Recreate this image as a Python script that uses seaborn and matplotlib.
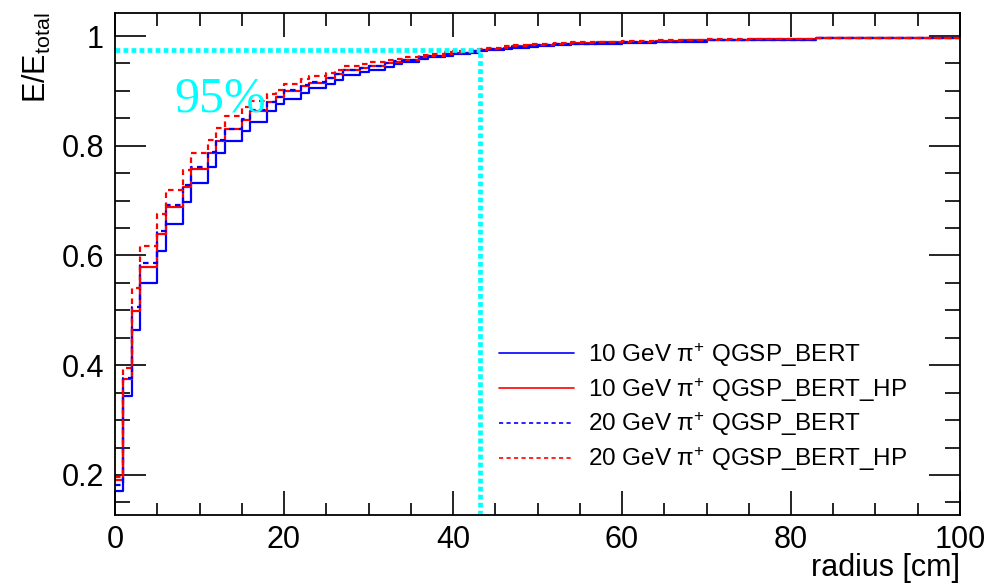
import numpy as np
import pandas as pd
import matplotlib
matplotlib.use("Agg")
import matplotlib.pyplot as plt
from matplotlib.lines import Line2D
from matplotlib.ticker import MultipleLocator
import seaborn as sns

# ---------------- data ----------------
bin_edges = [0, 1, 2, 3, 5, 6, 8, 9, 11, 12, 13, 15, 16, 18, 19, 20, 22, 23, 25, 26, 27,
             29, 30, 32, 33, 34, 36, 37, 39, 40, 42, 43, 44, 46, 47, 49, 50, 52, 54, 57,
             60, 64, 67, 70, 75, 83, 100]

bert_10 = [0.171, 0.344, 0.465, 0.549, 0.609, 0.657, 0.698, 0.733, 0.761, 0.786, 0.809,
           0.827, 0.844, 0.864, 0.876, 0.885, 0.897, 0.905, 0.913, 0.919, 0.929, 0.935,
           0.939, 0.944, 0.949, 0.953, 0.958, 0.961, 0.964, 0.967, 0.970, 0.972, 0.974,
           0.976, 0.978, 0.980, 0.981, 0.983, 0.985, 0.986, 0.988, 0.989, 0.990, 0.992,
           0.993, 0.996]
bert_hp_10 = [0.191, 0.374, 0.498, 0.579, 0.640, 0.689, 0.725, 0.758, 0.786, 0.809, 0.830,
              0.847, 0.863, 0.879, 0.888, 0.900, 0.909, 0.915, 0.924, 0.930, 0.938, 0.941,
              0.945, 0.950, 0.953, 0.957, 0.961, 0.964, 0.967, 0.970, 0.972, 0.975, 0.977,
              0.979, 0.981, 0.983, 0.984, 0.986, 0.987, 0.989, 0.990, 0.991, 0.992, 0.993,
              0.994, 0.996]
bert_20 = [0.182, 0.376, 0.507, 0.587, 0.645, 0.692, 0.728, 0.761, 0.788, 0.811, 0.830,
           0.848, 0.865, 0.880, 0.889, 0.901, 0.910, 0.916, 0.924, 0.930, 0.938, 0.942,
           0.946, 0.950, 0.954, 0.957, 0.961, 0.964, 0.967, 0.970, 0.972, 0.974, 0.976,
           0.978, 0.980, 0.982, 0.983, 0.985, 0.986, 0.988, 0.989, 0.990, 0.991, 0.992,
           0.993, 0.996]
bert_hp_20 = [0.197, 0.395, 0.540, 0.618, 0.676, 0.719, 0.756, 0.786, 0.810, 0.833, 0.854,
              0.870, 0.882, 0.894, 0.901, 0.913, 0.921, 0.927, 0.933, 0.939, 0.945, 0.949,
              0.952, 0.956, 0.959, 0.962, 0.965, 0.968, 0.971, 0.973, 0.975, 0.977, 0.979,
              0.981, 0.983, 0.985, 0.986, 0.988, 0.989, 0.990, 0.991, 0.992, 0.993, 0.994,
              0.995, 0.997]

series_labels = ["10 GeV \u03c0$^{+}$ QGSP_BERT", "10 GeV \u03c0$^{+}$ QGSP_BERT_HP",
                 "20 GeV \u03c0$^{+}$ QGSP_BERT", "20 GeV \u03c0$^{+}$ QGSP_BERT_HP"]
containment_x = 43.2
containment_y = 0.974
containment_text = "95%"

# ---------------- style ----------------
sns.set_theme(style="white")
plt.rcParams["font.family"] = ["Liberation Sans", "DejaVu Sans"]
plt.rcParams["mathtext.fontset"] = "custom"
plt.rcParams["mathtext.rm"] = "Liberation Sans"
plt.rcParams["mathtext.it"] = "Liberation Sans"
plt.rcParams["mathtext.default"] = "regular"
for k in ["text.color", "axes.labelcolor", "xtick.color", "ytick.color", "axes.edgecolor"]:
    plt.rcParams[k] = "black"

fig = plt.figure(figsize=(9.84, 5.85), dpi=100)
ax = fig.add_axes([115 / 984, 1 - 515 / 585, 845 / 984, 502 / 585])

colors = ["#0000ff", "#ff0000", "#0000ff", "#ff0000"]
styles = ["-", "-", (0, (2.5, 2.0)), (0, (2.5, 2.0))]
all_series = [bert_10, bert_hp_10, bert_20, bert_hp_20]

for vals, lab, col, ls in zip(all_series, series_labels, colors, styles):
    df = pd.DataFrame({"radius": bin_edges, "frac": list(vals) + [vals[-1]]})
    sns.lineplot(data=df, x="radius", y="frac", ax=ax, color=col, linestyle=ls,
                 drawstyle="steps-post", linewidth=1.6, estimator=None, sort=False,
                 legend=False)

# containment lines
ax.plot([0, containment_x], [containment_y, containment_y], color="#00ffff",
        linewidth=3.4, linestyle=(0, (1, 0.7)), solid_capstyle="butt")
ax.plot([containment_x, containment_x], [0.127, containment_y], color="#00ffff",
        linewidth=3.4, linestyle=(0, (1, 0.7)))
ax.text(7.0, 0.862, containment_text, color="#00ffff", fontsize=36,
        family=["Liberation Serif", "DejaVu Serif"], ha="left", va="baseline")

ax.set_xlim(0, 100)
ax.set_ylim(0.127, 1.042)

ax.xaxis.set_major_locator(MultipleLocator(20))
ax.xaxis.set_minor_locator(MultipleLocator(5))
ax.yaxis.set_major_locator(MultipleLocator(0.2))
ax.yaxis.set_minor_locator(MultipleLocator(0.05))
ax.set_yticks([0.2, 0.4, 0.6, 0.8, 1.0])
ax.set_yticklabels(["0.2", "0.4", "0.6", "0.8", "1"])

ax.tick_params(axis="x", which="major", direction="in", length=17, width=1.2,
               top=True, bottom=True, labelsize=22, pad=7)
ax.tick_params(axis="x", which="minor", direction="in", length=9, width=1.2,
               top=True, bottom=True)
ax.tick_params(axis="y", which="major", direction="in", length=22, width=1.2,
               left=True, right=True, labelsize=22, pad=8)
ax.tick_params(axis="y", which="minor", direction="in", length=11, width=1.2,
               left=True, right=True)
for sp in ax.spines.values():
    sp.set_color("black")
    sp.set_linewidth(1.3)

ax.set_xlabel("radius [cm]", fontsize=22, loc="right", labelpad=-1)
ax.set_ylabel("E/E$_{total}$", fontsize=22, loc="top", labelpad=6)

handles = [Line2D([], [], color=c, linestyle=s, linewidth=1.2) for c, s in zip(colors, styles)]
ax.legend(handles, series_labels, loc="center left", bbox_to_anchor=(0.44, 0.215),
          frameon=False, fontsize=17.5, handlelength=3.1, handletextpad=0.55,
          labelspacing=0.28, borderpad=0)

fig.savefig("out.png", dpi=100, facecolor="white")
